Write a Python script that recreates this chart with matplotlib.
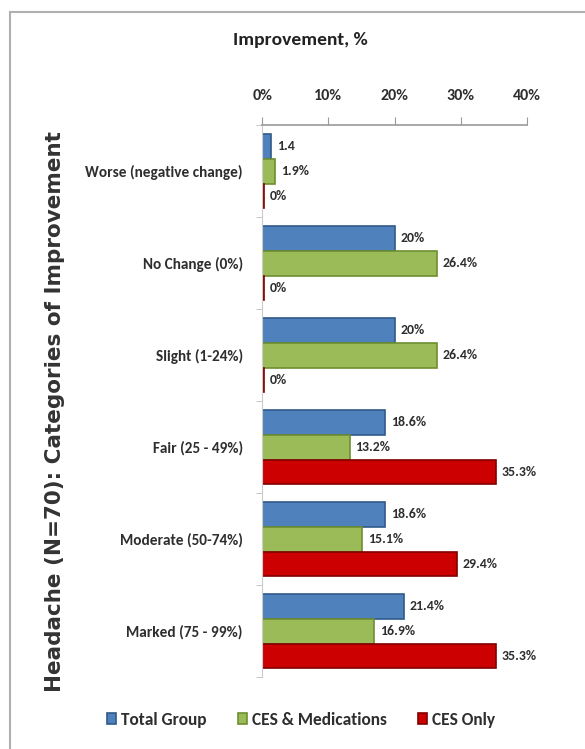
import matplotlib.pyplot as plt
import matplotlib.patches as patches
import numpy as np

categories = ['Worse (negative change)', 'No Change (0%)', 'Slight (1-24%)',
              'Fair (25 - 49%)', 'Moderate (50-74%)', 'Marked (75 - 99%)']
series = ['Total Group', 'CES & Medications', 'CES Only']
total_group = [1.4, 20, 20, 18.6, 18.6, 21.4]
ces_meds = [1.9, 26.4, 26.4, 13.2, 15.1, 16.9]
ces_only = [0, 0, 0, 35.3, 29.4, 35.3]
labels_total = ['1.4', '20%', '20%', '18.6%', '18.6%', '21.4%']
labels_meds = ['1.9%', '26.4%', '26.4%', '13.2%', '15.1%', '16.9%']
labels_only = ['0%', '0%', '0%', '35.3%', '29.4%', '35.3%']
xticks = [0, 10, 20, 30, 40]

colors = ['#4F81BD', '#9BBB59', '#CC0000']
edges = ['#2F5A8A', '#6E8F30', '#800000']

font = 'Carlito'
txtcol = '#2E2E2E'

fig = plt.figure(figsize=(5.85, 7.49), dpi=100)
ax = fig.add_axes([0.448, 0.096, 0.453, 0.737])

# frame around the whole chart
fig.patches.append(patches.Rectangle((0.017, -0.05), 1.1, 1.034, transform=fig.transFigure,
                                     fill=False, edgecolor='#B0B0B0', linewidth=1.5))

y = np.arange(len(categories))
h = 0.27
data = [total_group, ces_meds, ces_only]
labs = [labels_total, labels_meds, labels_only]
for i, (vals, lab) in enumerate(zip(data, labs)):
    pos = y + (i - 1) * h
    w = [max(v, 0.3) for v in vals]
    ax.barh(pos, w, height=h, color=colors[i], edgecolor=edges[i], linewidth=1.2,
            label=series[i])
    for p, v, t in zip(pos, w, lab):
        ax.text(v + 0.9, p, t, va='center', ha='left', fontsize=10,
                fontweight='bold', family=font, color=txtcol)

ax.set_xlim(0, 40)
ax.set_ylim(len(categories) - 0.5, -0.5)
ax.xaxis.tick_top()
ax.set_xticks(xticks)
ax.set_xticklabels([f'{t}%' for t in xticks], fontsize=11.5, fontweight='bold',
                   family=font)
ax.tick_params(axis='x', colors='#999999', labelcolor=txtcol, length=6, pad=10)
ax.set_yticks(y)
ax.set_yticklabels(categories, fontsize=11, fontweight='bold', family=font, color=txtcol)
ax.tick_params(axis='y', length=0, pad=14)
ax.set_yticks(np.arange(len(categories) + 1) - 0.5, minor=True)
ax.tick_params(axis='y', which='minor', length=4, color='#BBBBBB')
for s in ['right', 'bottom']:
    ax.spines[s].set_visible(False)
ax.spines['top'].set_color('#999999')
ax.spines['top'].set_linewidth(1.2)
ax.spines['left'].set_color('#CCCCCC')

fig.text(0.514, 0.947, 'Improvement, %', ha='center', va='center', fontsize=14,
         fontweight='bold', family=font, color='#222222')
fig.text(0.094, 0.451, 'Headache (N=70): Categories of Improvement', rotation=90,
         ha='center', va='center', fontsize=15.5, fontweight='bold', color='#333333')

leg = fig.legend(loc='center', bbox_to_anchor=(0.515, 0.039), ncol=3, frameon=False,
                 handlelength=0.5, handleheight=0.6, handletextpad=0.3, columnspacing=1.8,
                 prop={'family': font, 'weight': 'bold', 'size': 12.5})
for t in leg.get_texts():
    t.set_color(txtcol)

fig.savefig('out.png', dpi=100)
